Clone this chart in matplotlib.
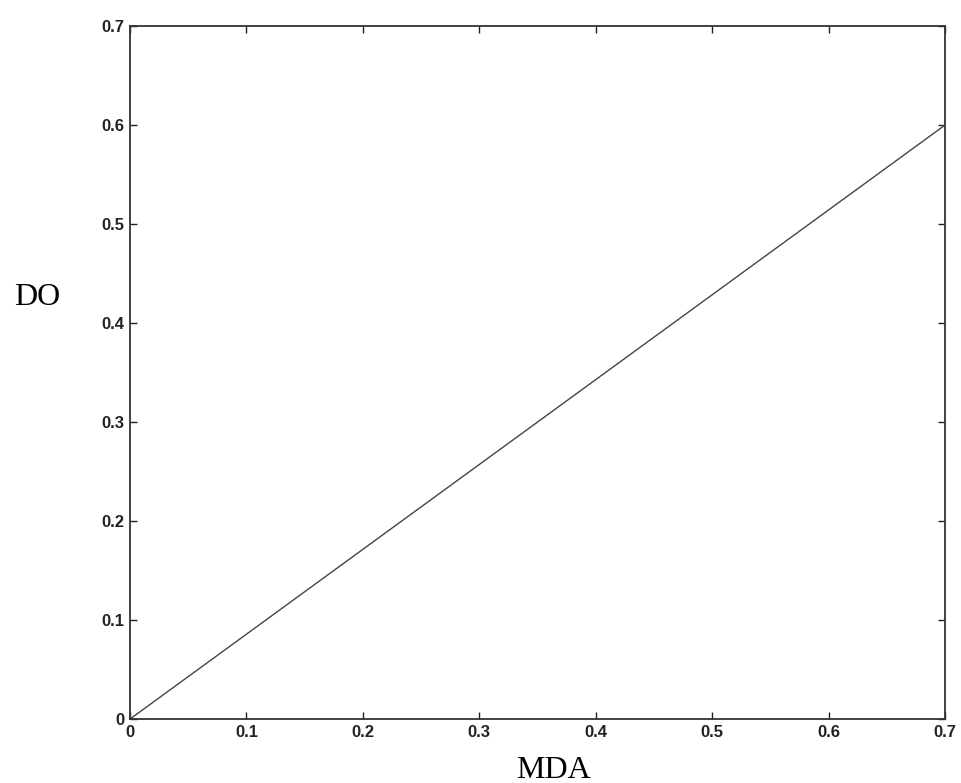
import matplotlib
matplotlib.use("Agg")
import matplotlib.pyplot as plt

# data
mda = [0.0, 0.7]
do = [0.0, 0.6]
ticks = [0, 0.1, 0.2, 0.3, 0.4, 0.5, 0.6, 0.7]
tick_labels = ["0", "0.1", "0.2", "0.3", "0.4", "0.5", "0.6", "0.7"]

fig = plt.figure(figsize=(9.61, 7.83), dpi=100)
ax = fig.add_axes([0.1353, 0.0817, 0.8481, 0.885])

ax.plot(mda, do, color="#444444", lw=1.0)

ax.set_xlim(0, 0.7)
ax.set_ylim(0, 0.7)
ax.set_xticks(ticks)
ax.set_yticks(ticks)
ax.set_xticklabels(tick_labels, fontfamily="Liberation Sans", fontweight="bold", fontsize=12)
ax.set_yticklabels(tick_labels, fontfamily="Liberation Sans", fontweight="bold", fontsize=12)
ax.tick_params(direction="in", length=5, width=1, pad=4, top=True, right=True, colors="#222222")
for s in ax.spines.values():
    s.set_linewidth(1.3)
    s.set_color("#333333")

# labels placed where the original has them (DO sits high, MDA a bit right of centre)
ax.set_xlabel("MDA", fontfamily="Liberation Serif", fontsize=23)
ax.xaxis.set_label_coords(0.52, -0.053, transform=ax.transAxes)
ax.xaxis.label.set_va("top")
ax.set_ylabel("DO", fontfamily="Liberation Serif", fontsize=23, rotation=0, va="center", ha="center")
ax.yaxis.set_label_coords(-0.114, 0.609)

fig.savefig("out.png", dpi=100)
